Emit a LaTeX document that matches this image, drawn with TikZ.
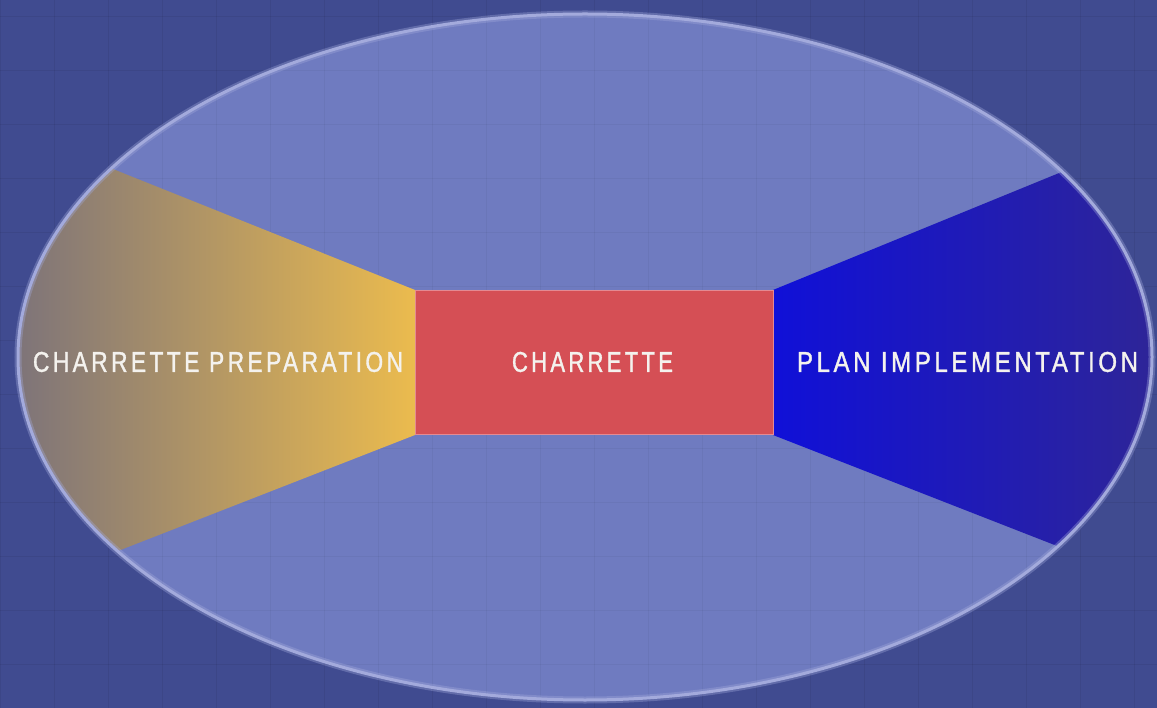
\documentclass[tikz,border=0pt]{standalone}
\usepackage{fontspec}
\usepackage{graphicx}
\newfontfamily\labfont[FakeStretch=0.8,LetterSpace=12,FakeBold=1.2]{Liberation Sans}
\definecolor{bgblue}{HTML}{404B90}
\definecolor{ellfill}{HTML}{6F7BC0}
\definecolor{elledge}{HTML}{A3AADC}
\definecolor{goldL}{HTML}{7E7479}
\definecolor{goldR}{HTML}{EBBB4E}
\definecolor{blueL}{HTML}{1010D8}
\definecolor{blueR}{HTML}{2E2597}
\definecolor{redbox}{HTML}{D54F55}
\definecolor{rededge}{HTML}{E48A92}
\definecolor{labtext}{HTML}{F4F2EE}
\tikzset{
  label text/.style={text=labtext, inner sep=0pt, font=\labfont},
  wing/.style={draw=none},
  gridline/.style={black, opacity=0.06, line width=0.8pt},
}
\newcommand{\lab}[2]{\resizebox{#1}{20pt}{#2}}
\begin{document}
\begin{tikzpicture}[x=1pt,y=-1pt]
\useasboundingbox (0,0) rectangle (1157,708);
\fill[bgblue] (0,0) rectangle (1157,708);
\foreach \gx in {0,54,...,1157} \draw[gridline] (\gx,0) -- (\gx,708);
\foreach \gy in {16,70,...,708} \draw[gridline] (0,\gy) -- (1157,\gy);
\coordinate (E) at (585,357);
\fill[ellfill] (E) ellipse [x radius=567pt, y radius=343pt];
\begin{scope}
  \clip (E) ellipse [x radius=567pt, y radius=343pt];
  \foreach \gx in {0,54,...,1157} \draw[gridline, opacity=0.04] (\gx,0) -- (\gx,708);
  \foreach \gy in {16,70,...,708} \draw[gridline, opacity=0.04] (0,\gy) -- (1157,\gy);
  \shade[wing, left color=goldL, right color=goldR]
    (415,290) -- (18,131) -- (18,590) -- (415,435) -- cycle;
  \shade[wing, left color=blueL, right color=blueR]
    (773,290) -- (1157,133) -- (1157,585) -- (773,435) -- cycle;
\end{scope}
\draw[elledge, opacity=0.35, line width=7pt] (E) ellipse [x radius=567pt, y radius=343pt];
\draw[elledge, line width=3pt] (E) ellipse [x radius=567pt, y radius=343pt];
\node[fill=redbox, draw=rededge, line width=1pt, minimum width=358pt, minimum height=144pt, inner sep=0pt, anchor=north west] (charrette) at (415,290) {};
\node[label text] (labC) at (592.5,362) {\lab{161pt}{CHARRETTE}};
\node[label text] (labP) at (218,362) {\lab{370pt}{CHARRETTE PREPARATION}};
\node[label text] (labI) at (967.5,362) {\lab{341pt}{PLAN IMPLEMENTATION}};
\end{tikzpicture}
\end{document}
